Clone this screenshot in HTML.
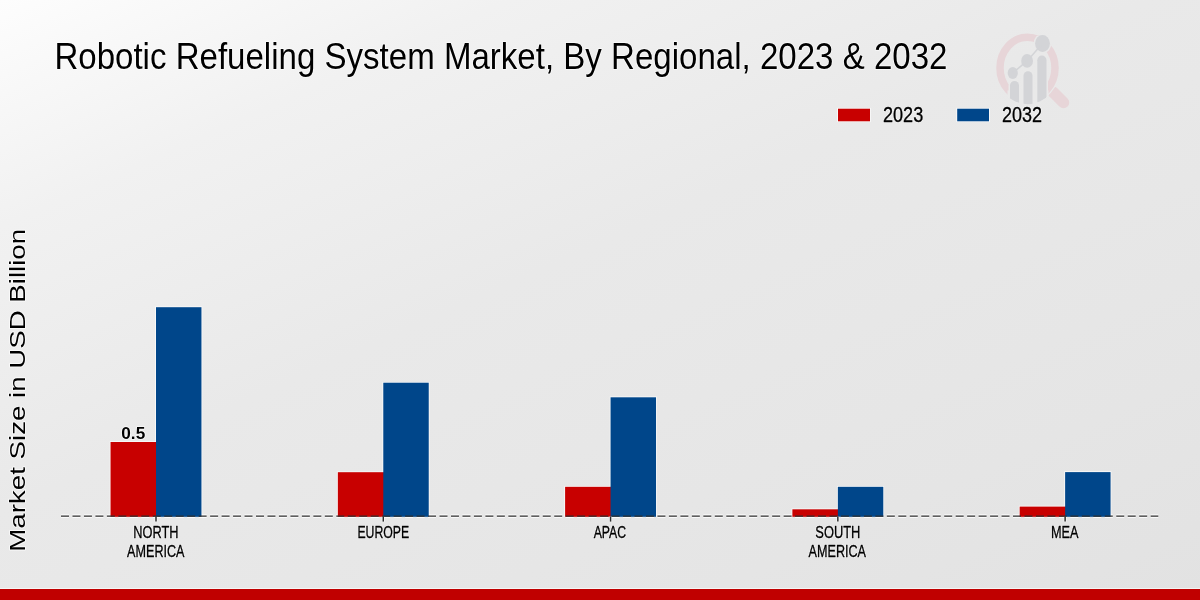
<!DOCTYPE html>
<html><head><meta charset="utf-8"><style>
html,body{margin:0;padding:0;width:1200px;height:600px;overflow:hidden;}
body{background:linear-gradient(156deg, #fdfdfd 0%, #f1f1f1 20%, #e9e9e9 45%, #e5e5e5 80%, #e2e2e2 100%);font-family:"Liberation Sans",sans-serif;}
svg{display:block;position:absolute;left:0;top:0;}
svg text{font-family:"Liberation Sans",sans-serif;}
svg{will-change:transform;}
</style></head><body>
<svg width="1200" height="600" viewBox="0 0 1200 600">
<defs><clipPath id="lc"><ellipse cx="1027.5" cy="69" rx="32" ry="35.2"/></clipPath><clipPath id="hc"><rect x="1045" y="80" width="30" height="30"/></clipPath></defs>
<g>
<line x1="1053" y1="92" x2="1063.5" y2="102.5" stroke="#e7d5d8" stroke-width="11.5" stroke-linecap="round"/>
<ellipse cx="1027.5" cy="68" rx="27.5" ry="30.8" fill="none" stroke="#e9e9e9" stroke-width="10" clip-path="url(#hc)"/>
<ellipse cx="1027.5" cy="68" rx="27.5" ry="30.8" fill="none" stroke="#e7d5d8" stroke-width="7.5"/>
<g clip-path="url(#lc)" stroke="#e9e9e9" stroke-width="3" fill="#e9e9e9">
<rect x="1010" y="81" width="9" height="40" rx="4.5" ry="4.5"/>
<rect x="1009" y="92" width="38" height="20"/>
<rect x="1023.5" y="71.2" width="9" height="50" rx="4.5" ry="4.5"/>
<rect x="1037.3" y="55.6" width="9.2" height="60" rx="4.6" ry="4.6"/>
<ellipse cx="1042.5" cy="43.5" rx="7.4" ry="8.5"/>
</g>
<g clip-path="url(#lc)" fill="#d3d4d7">
<rect x="1010" y="81" width="9" height="40" rx="4.5" ry="4.5"/>
<rect x="1023.5" y="71.2" width="9" height="50" rx="4.5" ry="4.5"/>
<rect x="1037.3" y="55.6" width="9.2" height="60" rx="4.6" ry="4.6"/>
</g>
<g fill="#d3d4d7">
<ellipse cx="1012.75" cy="72.9" rx="5.1" ry="6"/>
<ellipse cx="1027.1" cy="60.9" rx="5.9" ry="6.9"/>
<ellipse cx="1042.5" cy="43.5" rx="7.4" ry="8.5"/>
</g>
<polyline points="1012.75,72.9 1027.1,60.9 1042.5,43.5" fill="none" stroke="#d3d4d7" stroke-width="1.5"/>
</g>
<line x1="61" y1="516.2" x2="1158.3" y2="516.2" stroke="#ffffff" stroke-opacity="0.8" stroke-width="3.8" stroke-dasharray="8.0 3.47"/>
<polyline points="110.54,516.80 110.54,442.00 156.00,442.00 156.00,307.20 201.46,307.20 201.46,516.80" fill="none" stroke="#ffffff" stroke-opacity="0.8" stroke-width="1.6"/><polyline points="337.82,516.80 337.82,472.20 383.28,472.20 383.28,382.70 428.74,382.70 428.74,516.80" fill="none" stroke="#ffffff" stroke-opacity="0.8" stroke-width="1.6"/><polyline points="565.10,516.80 565.10,486.80 610.56,486.80 610.56,397.30 656.02,397.30 656.02,516.80" fill="none" stroke="#ffffff" stroke-opacity="0.8" stroke-width="1.6"/><polyline points="792.38,516.80 792.38,509.30 837.84,509.30 837.84,486.80 883.30,486.80 883.30,516.80" fill="none" stroke="#ffffff" stroke-opacity="0.8" stroke-width="1.6"/><polyline points="1019.66,516.80 1019.66,506.60 1065.12,506.60 1065.12,472.10 1110.58,472.10 1110.58,516.80" fill="none" stroke="#ffffff" stroke-opacity="0.8" stroke-width="1.6"/><rect x="110.54" y="442.00" width="46.46" height="74.80" fill="#c80000"/><rect x="156.00" y="307.20" width="45.46" height="209.60" fill="#00468a"/><rect x="337.82" y="472.20" width="46.46" height="44.60" fill="#c80000"/><rect x="383.28" y="382.70" width="45.46" height="134.10" fill="#00468a"/><rect x="565.10" y="486.80" width="46.46" height="30.00" fill="#c80000"/><rect x="610.56" y="397.30" width="45.46" height="119.50" fill="#00468a"/><rect x="792.38" y="509.30" width="46.46" height="7.50" fill="#c80000"/><rect x="837.84" y="486.80" width="45.46" height="30.00" fill="#00468a"/><rect x="1019.66" y="506.60" width="46.46" height="10.20" fill="#c80000"/><rect x="1065.12" y="472.10" width="45.46" height="44.70" fill="#00468a"/>
<line x1="156.00" y1="516.5" x2="156.00" y2="521.6" stroke="#ffffff" stroke-opacity="0.7" stroke-width="3.0"/><line x1="156.00" y1="516.5" x2="156.00" y2="521.6" stroke="#2b2b2b" stroke-width="1.5"/><line x1="383.28" y1="516.5" x2="383.28" y2="521.6" stroke="#ffffff" stroke-opacity="0.7" stroke-width="3.0"/><line x1="383.28" y1="516.5" x2="383.28" y2="521.6" stroke="#2b2b2b" stroke-width="1.5"/><line x1="610.56" y1="516.5" x2="610.56" y2="521.6" stroke="#ffffff" stroke-opacity="0.7" stroke-width="3.0"/><line x1="610.56" y1="516.5" x2="610.56" y2="521.6" stroke="#2b2b2b" stroke-width="1.5"/><line x1="837.84" y1="516.5" x2="837.84" y2="521.6" stroke="#ffffff" stroke-opacity="0.7" stroke-width="3.0"/><line x1="837.84" y1="516.5" x2="837.84" y2="521.6" stroke="#2b2b2b" stroke-width="1.5"/><line x1="1065.12" y1="516.5" x2="1065.12" y2="521.6" stroke="#ffffff" stroke-opacity="0.7" stroke-width="3.0"/><line x1="1065.12" y1="516.5" x2="1065.12" y2="521.6" stroke="#2b2b2b" stroke-width="1.5"/>
<line x1="61" y1="516.1" x2="1158.3" y2="516.1" stroke="#2e2e2e" stroke-width="1.35" stroke-dasharray="8.0 3.47"/>
<rect x="838" y="108.7" width="32" height="12.6" fill="none" stroke="#fff" stroke-opacity="0.8" stroke-width="1.6"/>
<rect x="957.2" y="108.7" width="31.8" height="12.6" fill="none" stroke="#fff" stroke-opacity="0.8" stroke-width="1.6"/>
<rect x="838" y="108.7" width="32" height="12.6" fill="#c80000"/>
<rect x="957.2" y="108.7" width="31.8" height="12.6" fill="#00468a"/>
<text x="54.39" y="68.90" font-size="36.66" textLength="893.07" lengthAdjust="spacingAndGlyphs" style="" fill="none" stroke="#ffffff" stroke-opacity="0.75" stroke-width="1.6" stroke-linejoin="round">Robotic Refueling System Market, By Regional, 2023 &amp; 2032</text><text x="54.39" y="68.90" font-size="36.66" textLength="893.07" lengthAdjust="spacingAndGlyphs" style="" fill="#000">Robotic Refueling System Market, By Regional, 2023 &amp; 2032</text>
<text x="882.99" y="121.60" font-size="22.34" textLength="40.20" lengthAdjust="spacingAndGlyphs" style="" fill="none" stroke="#ffffff" stroke-opacity="0.75" stroke-width="1.6" stroke-linejoin="round">2023</text><text x="882.99" y="121.60" font-size="22.34" textLength="40.20" lengthAdjust="spacingAndGlyphs" style="" fill="#000" stroke="#000" stroke-width="0.4">2023</text>
<text x="1002.10" y="121.60" font-size="22.34" textLength="40.01" lengthAdjust="spacingAndGlyphs" style="" fill="none" stroke="#ffffff" stroke-opacity="0.75" stroke-width="1.6" stroke-linejoin="round">2032</text><text x="1002.10" y="121.60" font-size="22.34" textLength="40.01" lengthAdjust="spacingAndGlyphs" style="" fill="#000" stroke="#000" stroke-width="0.4">2032</text>
<text x="121.32" y="438.50" font-size="16.83" textLength="23.91" lengthAdjust="spacingAndGlyphs" style="font-weight:bold;" fill="none" stroke="#ffffff" stroke-opacity="0.75" stroke-width="1.6" stroke-linejoin="round">0.5</text><text x="121.32" y="438.50" font-size="16.83" textLength="23.91" lengthAdjust="spacingAndGlyphs" style="font-weight:bold;" fill="#000">0.5</text>
<text x="133.21" y="538.00" font-size="16.11" textLength="45.23" lengthAdjust="spacingAndGlyphs" style="" fill="none" stroke="#ffffff" stroke-opacity="0.75" stroke-width="1.6" stroke-linejoin="round">NORTH</text><text x="133.21" y="538.00" font-size="16.11" textLength="45.23" lengthAdjust="spacingAndGlyphs" style="" fill="#000" stroke="#000" stroke-width="0.35">NORTH</text>
<text x="127.08" y="557.10" font-size="16.04" textLength="57.45" lengthAdjust="spacingAndGlyphs" style="" fill="none" stroke="#ffffff" stroke-opacity="0.75" stroke-width="1.6" stroke-linejoin="round">AMERICA</text><text x="127.08" y="557.10" font-size="16.04" textLength="57.45" lengthAdjust="spacingAndGlyphs" style="" fill="#000" stroke="#000" stroke-width="0.35">AMERICA</text>
<text x="357.39" y="538.10" font-size="16.72" textLength="51.89" lengthAdjust="spacingAndGlyphs" style="" fill="none" stroke="#ffffff" stroke-opacity="0.75" stroke-width="1.6" stroke-linejoin="round">EUROPE</text><text x="357.39" y="538.10" font-size="16.72" textLength="51.89" lengthAdjust="spacingAndGlyphs" style="" fill="#000" stroke="#000" stroke-width="0.35">EUROPE</text>
<text x="593.68" y="538.00" font-size="16.42" textLength="32.48" lengthAdjust="spacingAndGlyphs" style="" fill="none" stroke="#ffffff" stroke-opacity="0.75" stroke-width="1.6" stroke-linejoin="round">APAC</text><text x="593.68" y="538.00" font-size="16.42" textLength="32.48" lengthAdjust="spacingAndGlyphs" style="" fill="#000" stroke="#000" stroke-width="0.35">APAC</text>
<text x="815.32" y="538.00" font-size="16.42" textLength="45.03" lengthAdjust="spacingAndGlyphs" style="" fill="none" stroke="#ffffff" stroke-opacity="0.75" stroke-width="1.6" stroke-linejoin="round">SOUTH</text><text x="815.32" y="538.00" font-size="16.42" textLength="45.03" lengthAdjust="spacingAndGlyphs" style="" fill="#000" stroke="#000" stroke-width="0.35">SOUTH</text>
<text x="808.58" y="557.10" font-size="16.04" textLength="57.45" lengthAdjust="spacingAndGlyphs" style="" fill="none" stroke="#ffffff" stroke-opacity="0.75" stroke-width="1.6" stroke-linejoin="round">AMERICA</text><text x="808.58" y="557.10" font-size="16.04" textLength="57.45" lengthAdjust="spacingAndGlyphs" style="" fill="#000" stroke="#000" stroke-width="0.35">AMERICA</text>
<text x="1050.96" y="538.00" font-size="16.35" textLength="27.57" lengthAdjust="spacingAndGlyphs" style="" fill="none" stroke="#ffffff" stroke-opacity="0.75" stroke-width="1.6" stroke-linejoin="round">MEA</text><text x="1050.96" y="538.00" font-size="16.35" textLength="27.57" lengthAdjust="spacingAndGlyphs" style="" fill="#000" stroke="#000" stroke-width="0.35">MEA</text>
<g transform="translate(24.7,549.4) rotate(-90)"><text x="-2.27" y="0.00" font-size="22.91" textLength="322.76" lengthAdjust="spacingAndGlyphs" style="" fill="none" stroke="#ffffff" stroke-opacity="0.75" stroke-width="1.6" stroke-linejoin="round">Market Size in USD Billion</text><text x="-2.27" y="0.00" font-size="22.91" textLength="322.76" lengthAdjust="spacingAndGlyphs" style="" fill="#000">Market Size in USD Billion</text></g>
<rect x="0" y="589" width="1200" height="11" fill="#c00000"/>
<rect x="0" y="588" width="1200" height="1" fill="#ffffff" opacity="0.6"/>
</svg>
</body></html>
